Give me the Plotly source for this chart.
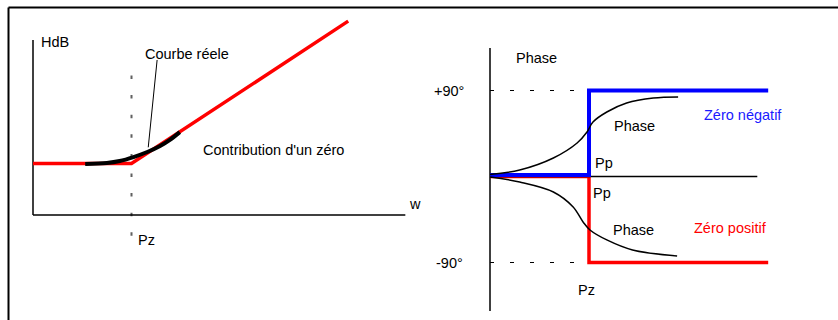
import plotly.graph_objects as go

# ---- left panel : gain of a zero (x in decades, Pz = 1 ; y in dB) ----
pz = 1.0
gain_asym_x = [0.0, 1.0, 3.2]
gain_asym_y = [0.0, 0.0, 44.0]
gain_real_x = [0.53, 0.75, 0.88, 1.02, 1.16, 1.29, 1.39, 1.49]
gain_real_y = [-0.15, 0.15, 0.77, 2.0, 3.55, 5.4, 7.3, 9.7]
gain_axis_x = [0.0, 3.78]      # horizontal (w) axis extent
gain_axis_y = [-15.9, 38.2]    # vertical (HdB) axis extent
pz_mark_y = [27.2, -23.6]

# ---- right panel : phase of a zero (x in decades, Pz = 1 ; y in degrees) ----
neg_x = [0.0, 1.0, 1.0, 2.81]
neg_y = [0.0, 0.0, 90.0, 90.0]
pos_x = [0.0, 1.0, 1.0, 2.81]
pos_y = [0.0, 0.0, -90.0, -90.0]
phase_up_x = [0.0, 0.30, 0.64, 0.88, 0.98, 1.04, 1.18, 1.38, 1.65, 1.90]
phase_up_y = [2.0, 6.8, 19.4, 35.1, 46.6, 57.0, 67.5, 76.9, 82.1, 83.2]
phase_dn_x = [0.0, 0.30, 0.64, 0.84, 0.94, 1.01, 1.18, 1.44, 1.89]
phase_dn_y = [-0.5, -5.8, -16.2, -31.9, -47.6, -56.0, -66.4, -76.9, -83.2]
phase_axis_x = [0.0, 2.70]
phase_axis_y = [-140.7, 134.5]
ref_lines = [90, -90]
ref_line_end = 0.86

W, H = 838, 320
FONT = "Liberation Sans, Arial, sans-serif"
FS = 14.5
RED, BLUE = "#ff0000", "#0000ff"


def axis_range(va, pa, vb, pb, lo_px, hi_px):
    k = (pb - pa) / (vb - va)
    return [va + (lo_px - pa) / k, va + (hi_px - pa) / k]


fig = go.Figure()

# left panel
L = dict(xaxis="x", yaxis="y", showlegend=False, hoverinfo="skip", mode="lines")
fig.add_trace(go.Scatter(x=[pz, pz], y=pz_mark_y, line=dict(color="#606060", width=2, dash="3.5px,16.1px"), **L))
fig.add_trace(go.Scatter(x=[gain_axis_x[0], gain_axis_x[0]], y=gain_axis_y, line=dict(color="black", width=1.5), **L))
fig.add_trace(go.Scatter(x=gain_axis_x, y=[gain_axis_y[0]] * 2, line=dict(color="black", width=1.5), **L))
fig.add_trace(go.Scatter(x=gain_asym_x, y=gain_asym_y, line=dict(color=RED, width=3.5), **L))
fig.add_trace(go.Scatter(x=gain_real_x, y=gain_real_y, line=dict(color="black", width=4, shape="spline"), **L))

# right panel
R = dict(xaxis="x2", yaxis="y2", showlegend=False, hoverinfo="skip", mode="lines")
for v in ref_lines:
    fig.add_trace(go.Scatter(x=[0, ref_line_end], y=[v, v], line=dict(color="black", width=1, dash="4px,16px"), **R))
fig.add_trace(go.Scatter(x=[0, 0], y=phase_axis_y, line=dict(color="black", width=1.5), **R))
fig.add_trace(go.Scatter(x=pos_x, y=pos_y, line=dict(color=RED, width=3.5), **R))
fig.add_trace(go.Scatter(x=phase_axis_x, y=[0, 0], line=dict(color="black", width=1.5), **R))
fig.add_trace(go.Scatter(x=neg_x, y=[v + 1.5 if v == 0 else v for v in neg_y], line=dict(color=BLUE, width=4), **R))
fig.add_trace(go.Scatter(x=phase_up_x, y=phase_up_y, line=dict(color="black", width=1.5, shape="spline"), **R))
fig.add_trace(go.Scatter(x=phase_dn_x, y=phase_dn_y, line=dict(color="black", width=1.5, shape="spline"), **R))


def label(text, x, y, ax="x", color="black", xanchor="left"):
    ay = "y" if ax == "x" else "y2"
    fig.add_annotation(text=text, x=x, y=y, xref=ax, yref=ay, showarrow=False,
                       xanchor=xanchor, yanchor="middle", borderpad=0,
                       font=dict(family=FONT, size=FS, color=color))


label("HdB", 0.07, 37.6)
label("Courbe réele", 1.13, 33.8)
label("Contribution d'un zéro", 1.72, 4.2)
label("w", 3.81, -12.5)
label("Pz", 1.06, -23.6)

label("Phase", 0.25, 124, "x2")
label("+90°", -0.25, 90, "x2", xanchor="right")
label("-90°", -0.26, -90, "x2", xanchor="right")
label("Phase", 1.24, 52.8, "x2")
label("Pp", 1.05, 14.1, "x2")
label("Pp", 1.03, -17.3, "x2")
label("Phase", 1.23, -56, "x2")
label("Zéro négatif", 2.15, 64.4, "x2", color="#1a1aff")
label("Zéro positif", 2.05, -53.9, "x2", color=RED)
label("Pz", 0.88, -118.8, "x2")

# pointer from the label to the real curve
fig.add_shape(type="line", xref="x", yref="y", x0=1.26, y0=32, x1=1.17, y1=5.0,
              line=dict(color="black", width=1))

# frame around the drawing (top and left edges only are inside the picture)
fx, fy = 8.5 / W, 1 - 7.5 / H
fig.add_shape(type="line", xref="paper", yref="paper", x0=fx, y0=fy, x1=1.01, y1=fy,
              line=dict(color="black", width=2))
fig.add_shape(type="line", xref="paper", yref="paper", x0=fx, y0=fy, x1=fx, y1=-0.01,
              line=dict(color="black", width=2))

hidden = dict(visible=False, showgrid=False, zeroline=False, fixedrange=True)
fig.update_layout(
    width=W, height=H,
    margin=dict(l=0, r=0, t=0, b=0),
    paper_bgcolor="white", plot_bgcolor="white",
    xaxis=dict(domain=[0, 420 / W], range=axis_range(0, 33, 1, 131.5, 0, 420), **hidden),
    yaxis=dict(domain=[0, 1], range=axis_range(0, 163.5, 20, 163.5 - 64.7, H, 0), **hidden),
    xaxis2=dict(domain=[420 / W, 1], anchor="y2", range=axis_range(0, 490, 1, 589, 420, W), **hidden),
    yaxis2=dict(domain=[0, 1], anchor="x2", range=axis_range(0, 176.5, 90, 90.5, H, 0), **hidden),
)

fig.write_html("out.html", config={"displayModeBar": False},
               post_script="document.body.style.margin='0';document.body.style.overflow='hidden';")
